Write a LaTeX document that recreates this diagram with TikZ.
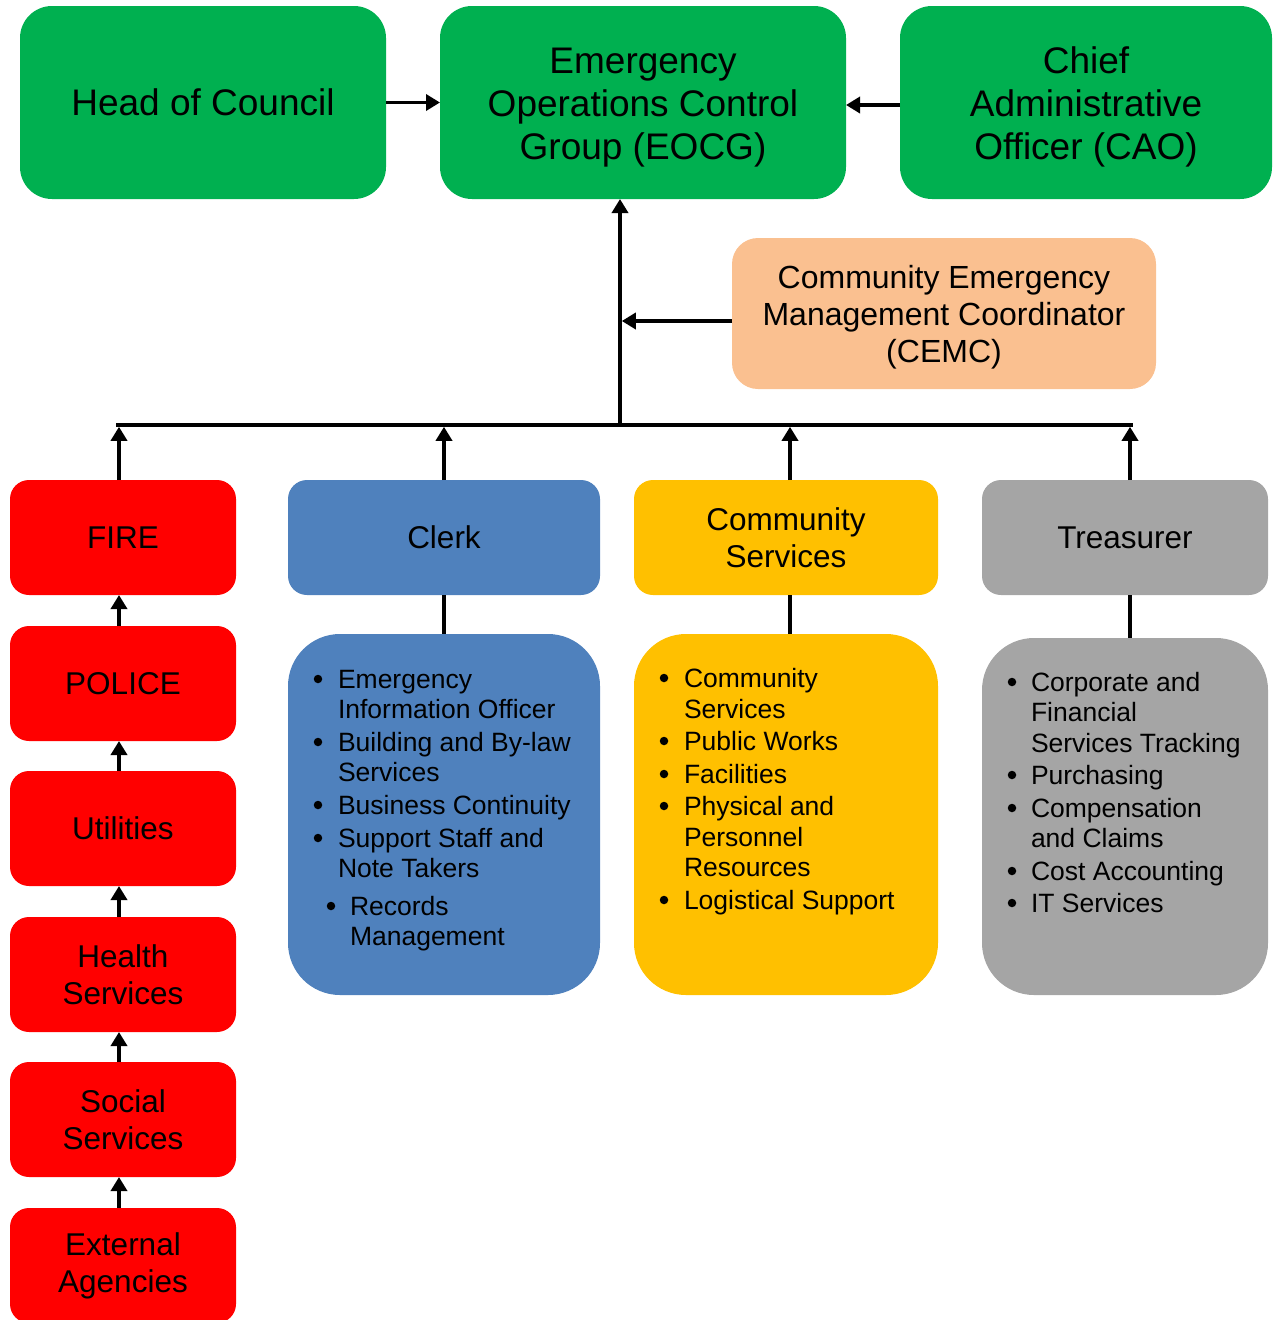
\documentclass[tikz,border=0pt]{standalone}
\usepackage{fontspec}
\setmainfont{Liberation Sans}
\usetikzlibrary{arrows.meta}

\definecolor{grn}{HTML}{00B050}
\definecolor{peach}{HTML}{FAC090}
\definecolor{redbox}{HTML}{FF0000}
\definecolor{bluebox}{HTML}{4F81BD}
\definecolor{goldbox}{HTML}{FFC000}
\definecolor{graybox}{HTML}{A5A5A5}

% raises the first line of a multi-line label to a full line height
\newcommand{\toplinestrut}{\rule{0pt}{0.95em}}

\tikzset{
  box/.style={draw=none, inner sep=0pt, outer sep=0pt, align=center},
  topbox/.style={box, fill=grn, rounded corners=32pt, minimum height=193pt,
    font=\fontsize{37}{43}\selectfont},
  redunit/.style={box, fill=redbox, rounded corners=19pt, minimum width=226pt,
    minimum height=115pt, font=\fontsize{31.5}{37}\selectfont},
  headbox/.style={box, rounded corners=19pt, minimum height=115pt,
    font=\fontsize{31.5}{37}\selectfont},
  listbox/.style={box, rounded corners=52pt},
  itemtext/.style={inner sep=0pt, outer sep=0pt, anchor=base west,
    font=\fontsize{26.5}{30}\selectfont},
  dot/.style={circle, fill=black, inner sep=0pt, outer sep=0pt, minimum size=8.5pt},
  conn/.style={line width=3.6pt, -{Triangle[width=16pt,length=14pt]}},
  plain/.style={line width=3.6pt}
}

\begin{document}
\begin{tikzpicture}[x=1pt,y=1pt]
\useasboundingbox (0,0) rectangle (1275,-1320);

% top row
\node[topbox, minimum width=366pt] (hoc) at (203,-102.5) {Head of Council};
\node[topbox, minimum width=406pt] (eocg) at (643,-102.5)
  {\toplinestrut Emergency\\Operations Control\\Group (EOCG)};
\node[topbox, minimum width=372pt] (cao) at (1086,-102.5)
  {\toplinestrut Chief\\Administrative\\Officer (CAO)};

% coordinator
\node[box, fill=peach, rounded corners=26pt, minimum width=424pt, minimum height=151pt,
  font=\fontsize{32}{37}\selectfont] (cemc) at (944,-313.5)
  {\toplinestrut Community Emergency\\Management Coordinator\\(CEMC)};

% emergency services chain
\node[redunit] (fire)   at (123,-537.5)  {FIRE};
\node[redunit] (police) at (123,-683.5)  {POLICE};
\node[redunit] (util)   at (123,-828.5)  {Utilities};
\node[redunit] (health) at (123,-974.5)  {Health\\Services};
\node[redunit] (social) at (123,-1119.5) {Social\\Services};
\node[redunit] (ext)    at (123,-1265.5) {External\\Agencies};

% department headers
\node[headbox, fill=bluebox, minimum width=312pt] (clerk) at (444,-537.5) {Clerk};
\node[headbox, fill=goldbox, minimum width=304pt] (comm) at (786,-537.5) {Community\\Services};
\node[headbox, fill=graybox, minimum width=286pt] (treas) at (1125,-537.5) {Treasurer};

% department lists
\node[listbox, fill=bluebox, minimum width=312pt, minimum height=361pt] (clerkList) at (444,-814.5) {};
\node[listbox, fill=goldbox, minimum width=304pt, minimum height=361pt] (commList) at (786,-814.5) {};
\node[listbox, fill=graybox, minimum width=286pt, minimum height=357pt] (treasList) at (1125,-816.5) {};

% Clerk items
\node[dot] (cb1) at (318,-679) {};
\node[itemtext] (cl1a) at (338,-688) {Emergency};
\node[itemtext] (cl1b) at (338,-718) {Information Officer};
\node[dot] (cb2) at (318,-742) {};
\node[itemtext] (cl2a) at (338,-751) {Building and By-law};
\node[itemtext] (cl2b) at (338,-781) {Services};
\node[dot] (cb3) at (318,-805) {};
\node[itemtext] (cl3a) at (338,-814) {Business Continuity};
\node[dot] (cb4) at (318,-838) {};
\node[itemtext] (cl4a) at (338,-847) {Support Staff and};
\node[itemtext] (cl4b) at (338,-877) {Note Takers};
\node[dot] (cb5) at (331,-906) {};
\node[itemtext] (cl5a) at (350,-915) {Records};
\node[itemtext] (cl5b) at (350,-945) {Management};

% Community Services items
\node[dot] (mb1) at (664,-678) {};
\node[itemtext] (cm1a) at (684,-687) {Community};
\node[itemtext] (cm1b) at (684,-718) {Services};
\node[dot] (mb2) at (664,-741) {};
\node[itemtext] (cm2a) at (684,-750) {Public Works};
\node[dot] (mb3) at (664,-774) {};
\node[itemtext] (cm3a) at (684,-783) {Facilities};
\node[dot] (mb4) at (664,-806) {};
\node[itemtext] (cm4a) at (684,-815) {Physical and};
\node[itemtext] (cm4b) at (684,-846) {Personnel};
\node[itemtext] (cm4c) at (684,-876) {Resources};
\node[dot] (mb5) at (664,-900) {};
\node[itemtext] (cm5a) at (684,-909) {Logistical Support};

% Treasurer items
\node[dot] (tb1) at (1012,-682) {};
\node[itemtext] (tr1a) at (1031,-691) {Corporate and};
\node[itemtext] (tr1b) at (1031,-721) {Financial};
\node[itemtext] (tr1c) at (1031,-752) {Services Tracking};
\node[dot] (tb2) at (1012,-775) {};
\node[itemtext] (tr2a) at (1031,-784) {Purchasing};
\node[dot] (tb3) at (1012,-808) {};
\node[itemtext] (tr3a) at (1031,-817) {Compensation};
\node[itemtext] (tr3b) at (1031,-847) {and Claims};
\node[dot] (tb4) at (1012,-871) {};
\node[itemtext] (tr4a) at (1031,-880) {Cost Accounting};
\node[dot] (tb5) at (1012,-903) {};
\node[itemtext] (tr5a) at (1031,-912) {IT Services};

% reporting bus
\coordinate (busL) at (118,-425);
\coordinate (busR) at (1131,-425);
\coordinate (busM) at (620,-425);
\draw[plain, line cap=rect] (busL) -- (busR);

% top connections
\draw[conn] (hoc.east) -- (eocg.west);
\draw[conn] ([yshift=-2.5pt]cao.west) -- ([yshift=-2.5pt]eocg.east);
\draw[conn] (busM) -- (busM |- eocg.south);
\coordinate (cemcOut) at ([yshift=-7.5pt]cemc.west);
\draw[conn, shorten >=1.8pt] (cemcOut) -- (cemcOut -| busM);

% departments up to the bus
\coordinate (fireTop) at ([xshift=-4pt]fire.north);
\coordinate (commTop) at ([xshift=4pt]comm.north);
\coordinate (treasTop) at ([xshift=5pt]treas.north);
\draw[conn, shorten >=1.8pt] (fireTop) -- (fireTop |- busL);
\draw[conn, shorten >=1.8pt] (clerk.north) -- (clerk.north |- busL);
\draw[conn, shorten >=1.8pt] (commTop) -- (commTop |- busL);
\draw[conn, shorten >=1.8pt] (treasTop) -- (treasTop |- busL);

% emergency services chain
\draw[conn] ([xshift=-4pt]police.north) -- ([xshift=-4pt]fire.south);
\draw[conn] ([xshift=-4pt]util.north) -- ([xshift=-4pt]police.south);
\draw[conn] ([xshift=-4pt]health.north) -- ([xshift=-4pt]util.south);
\draw[conn] ([xshift=-4pt]social.north) -- ([xshift=-4pt]health.south);
\draw[conn] ([xshift=-4pt]ext.north) -- ([xshift=-4pt]social.south);

% headers to their lists
\draw[plain] (clerk.south) -- (clerkList.north);
\draw[plain] ([xshift=4pt]comm.south) -- ([xshift=4pt]commList.north);
\draw[plain] ([xshift=5pt]treas.south) -- ([xshift=5pt]treasList.north);
\end{tikzpicture}
\end{document}
